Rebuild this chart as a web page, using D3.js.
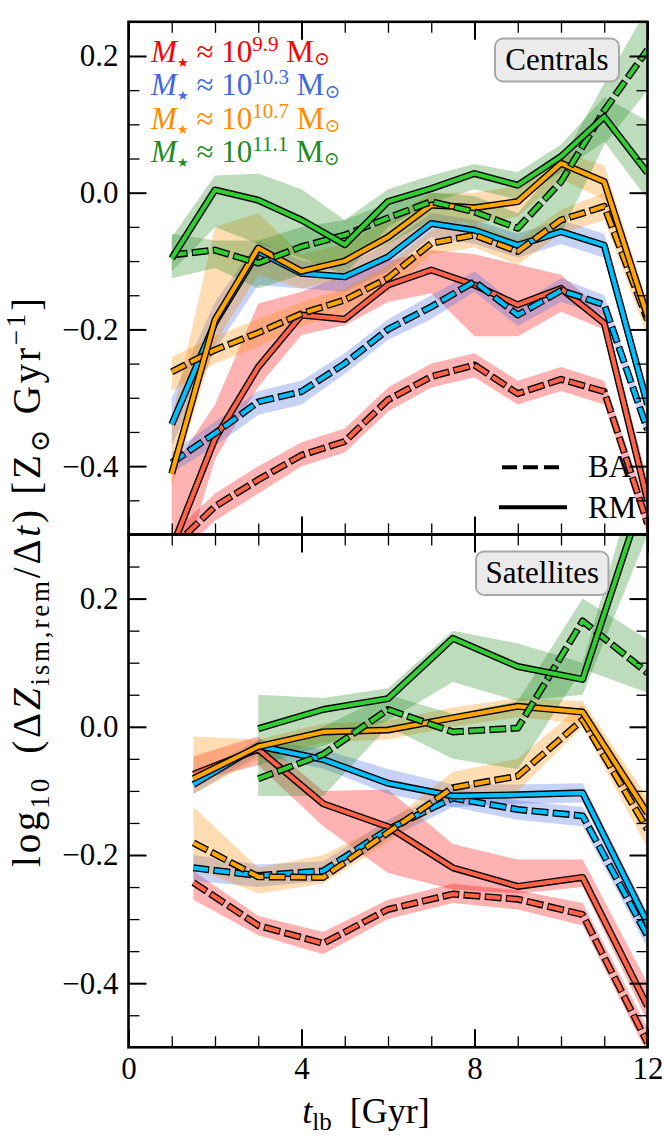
<!DOCTYPE html>
<html>
<head>
<meta charset="utf-8">
<script src="https://cdn.jsdelivr.net/npm/d3@7"></script>
<style>
  body { margin: 0; background: #fff; }
  svg { display: block; }
  text { font-family: "Liberation Serif", "DejaVu Serif", serif; }
</style>
</head>
<body>
<div id="chart"></div>
<script>
// lookback times of the bins
var tCen = [1, 2, 3, 4, 5, 6, 7, 8, 9, 10, 11, 12];
var tSat = [1.5, 3, 4.5, 6, 7.5, 9, 10.5, 12];

// ---- centrals ----
var cenRedBA    = [-0.52, -0.459, -0.42, -0.384, -0.364, -0.303, -0.269, -0.252, -0.294, -0.273, -0.291, -0.484];
var cenRedBAlo  = [-0.54, -0.48, -0.44, -0.40, -0.38, -0.32, -0.285, -0.27, -0.31, -0.29, -0.31, -0.50];
var cenRedBAhi  = [-0.50, -0.44, -0.40, -0.365, -0.345, -0.285, -0.25, -0.235, -0.275, -0.255, -0.275, -0.46];
var cenRedRM    = [-0.52, -0.36, -0.255, -0.179, -0.185, -0.135, -0.113, -0.135, -0.164, -0.14, -0.191, -0.45];
var cenRedRMlo  = [-0.60, -0.39, -0.284, -0.208, -0.194, -0.16, -0.147, -0.21, -0.21, -0.174, -0.20, -0.47];
var cenRedRMhi  = [-0.405, -0.31, -0.162, -0.145, -0.12, -0.10, -0.084, -0.09, -0.105, -0.12, -0.175, -0.42];

var cenBlueBA   = [-0.395, -0.352, -0.306, -0.291, -0.25, -0.20, -0.167, -0.13, -0.179, -0.143, -0.164, -0.347];
var cenBlueBAlo = [-0.41, -0.37, -0.325, -0.31, -0.265, -0.215, -0.185, -0.145, -0.195, -0.16, -0.18, -0.36];
var cenBlueBAhi = [-0.38, -0.335, -0.29, -0.275, -0.235, -0.185, -0.15, -0.115, -0.165, -0.125, -0.15, -0.33];
var cenBlueRM   = [-0.339, -0.19, -0.086, -0.118, -0.123, -0.094, -0.045, -0.055, -0.077, -0.057, -0.077, -0.31];
var cenBlueRMlo = [-0.37, -0.23, -0.135, -0.14, -0.145, -0.115, -0.065, -0.075, -0.095, -0.075, -0.095, -0.33];
var cenBlueRMhi = [-0.30, -0.16, -0.07, -0.10, -0.105, -0.075, -0.03, -0.04, -0.06, -0.04, -0.06, -0.29];

var cenOrBA     = [-0.262, -0.23, -0.205, -0.177, -0.157, -0.125, -0.074, -0.062, -0.086, -0.04, -0.02, -0.186];
var cenOrBAlo   = [-0.29, -0.25, -0.225, -0.195, -0.175, -0.145, -0.09, -0.08, -0.105, -0.06, -0.04, -0.21];
var cenOrBAhi   = [-0.24, -0.21, -0.185, -0.16, -0.14, -0.105, -0.055, -0.045, -0.07, -0.025, 0.0, -0.16];
var cenOrRM     = [-0.411, -0.186, -0.081, -0.115, -0.10, -0.065, -0.018, -0.022, -0.013, 0.043, 0.016, -0.181];
var cenOrRMlo   = [-0.43, -0.22, -0.12, -0.14, -0.125, -0.09, -0.04, -0.045, -0.035, 0.02, -0.01, -0.20];
var cenOrRMhi   = [-0.33, -0.05, -0.03, -0.09, -0.075, -0.04, 0.0, 0.0, 0.01, 0.06, 0.04, -0.16];

var cenGrBA     = [-0.091, -0.084, -0.103, -0.079, -0.062, -0.037, -0.013, -0.028, -0.052, 0.016, 0.12, 0.209];
var cenGrBAlo   = [-0.125, -0.11, -0.14, -0.12, -0.10, -0.075, -0.04, -0.05, -0.075, -0.06, 0.07, 0.15];
var cenGrBAhi   = [-0.06, -0.07, -0.07, -0.05, -0.04, -0.015, 0.0, -0.005, -0.03, 0.045, 0.16, 0.27];
var cenGrRM     = [-0.096, 0.004, -0.011, -0.04, -0.076, -0.013, 0.006, 0.028, 0.011, 0.053, 0.111, 0.029];
var cenGrRMlo   = [-0.115, -0.05, -0.075, -0.095, -0.12, -0.05, -0.015, 0.005, -0.01, 0.03, 0.075, -0.01];
var cenGrRMhi   = [-0.065, 0.025, 0.028, 0.005, -0.04, 0.005, 0.025, 0.042, 0.03, 0.07, 0.14, 0.105];

// ---- satellites ----
var satRedBA    = [-0.243, -0.31, -0.338, -0.285, -0.261, -0.269, -0.293, -0.493];
var satRedBAlo  = [-0.27, -0.325, -0.355, -0.30, -0.275, -0.285, -0.31, -0.51];
var satRedBAhi  = [-0.225, -0.295, -0.32, -0.27, -0.245, -0.255, -0.275, -0.47];
var satRedRM    = [-0.074, -0.035, -0.12, -0.156, -0.22, -0.249, -0.235, -0.436];
var satRedRMlo  = [-0.085, -0.06, -0.155, -0.228, -0.254, -0.26, -0.25, -0.46];
var satRedRMhi  = [-0.046, -0.015, -0.10, -0.098, -0.183, -0.207, -0.207, -0.40];

var satBlueBA   = [-0.22, -0.232, -0.225, -0.16, -0.111, -0.129, -0.139, -0.326];
var satBlueBAlo = [-0.24, -0.25, -0.24, -0.175, -0.125, -0.145, -0.155, -0.345];
var satBlueBAhi = [-0.20, -0.215, -0.21, -0.145, -0.095, -0.115, -0.125, -0.31];
var satBlueRM   = [-0.09, -0.03, -0.051, -0.088, -0.108, -0.106, -0.103, -0.306];
var satBlueRMlo = [-0.105, -0.045, -0.065, -0.105, -0.125, -0.12, -0.118, -0.325];
var satBlueRMhi = [-0.075, -0.02, -0.035, -0.066, -0.09, -0.09, -0.088, -0.29];

var satOrBA     = [-0.181, -0.234, -0.235, -0.165, -0.095, -0.077, 0.011, -0.16];
var satOrBAlo   = [-0.22, -0.26, -0.245, -0.18, -0.11, -0.10, 0.0, -0.19];
var satOrBAhi   = [-0.125, -0.22, -0.20, -0.15, -0.07, -0.05, 0.035, -0.12];
var satOrRM     = [-0.081, -0.031, -0.008, -0.005, 0.014, 0.032, 0.023, -0.135];
var satOrRMlo   = [-0.105, -0.05, -0.025, -0.02, 0.0, 0.015, 0.005, -0.16];
var satOrRMhi   = [-0.015, -0.02, 0.005, 0.01, 0.03, 0.045, 0.04, -0.11];

var satGrBA     = [null, -0.081, -0.043, 0.027, -0.008, -0.002, 0.165, 0.084];
var satGrBAlo   = [null, -0.108, -0.108, 0.0, -0.05, -0.066, 0.09, 0.053];
var satGrBAhi   = [null, -0.04, 0.0, 0.05, 0.02, 0.04, 0.20, 0.136];
var satGrRM     = [null, -0.003, 0.027, 0.044, 0.138, 0.094, 0.074, 0.38];
var satGrRMlo   = [null, -0.06, -0.03, 0.01, 0.07, 0.04, 0.05, 0.30];
var satGrRMhi   = [null, 0.05, 0.045, 0.06, 0.15, 0.13, 0.10, 0.45];

// ticks and labels
var xMajor = [0, 4, 8, 12];
var yMajor = [-0.4, -0.2, 0.0, 0.2];
var massLabels = ["9.9", "10.3", "10.7", "11.1"];
var panelNames = ["Centrals", "Satellites"];

var lineColor = {red: "tomato", blue: "deepskyblue", orange: "orange", green: "limegreen"};
var bandColor = {red: "red", blue: "royalblue", orange: "darkorange", green: "forestgreen"};
var textColor = ["red", "royalblue", "darkorange", "forestgreen"];

var width = 664, height = 1139;
var L = 128.5, R = 647.5, T1 = 21.8, B1 = 534.5, B2 = 1047.3;

var svg = d3.select("#chart").append("svg")
    .attr("width", width)
    .attr("height", height);

var x = d3.scaleLinear().domain([0, 12]).range([L, R]);
var yTop = d3.scaleLinear().domain([-0.5, 0.25]).range([B1, T1]);
var yBot = d3.scaleLinear().domain([-0.5, 0.3]).range([B2, B1]);

function mk(c, kind, v, lo, hi) { return {c: c, kind: kind, v: v, lo: lo, hi: hi}; }

var cenSeries = [
  mk("red", "BA", cenRedBA, cenRedBAlo, cenRedBAhi),
  mk("red", "RM", cenRedRM, cenRedRMlo, cenRedRMhi),
  mk("blue", "BA", cenBlueBA, cenBlueBAlo, cenBlueBAhi),
  mk("blue", "RM", cenBlueRM, cenBlueRMlo, cenBlueRMhi),
  mk("orange", "BA", cenOrBA, cenOrBAlo, cenOrBAhi),
  mk("orange", "RM", cenOrRM, cenOrRMlo, cenOrRMhi),
  mk("green", "BA", cenGrBA, cenGrBAlo, cenGrBAhi),
  mk("green", "RM", cenGrRM, cenGrRMlo, cenGrRMhi)
];
var satSeries = [
  mk("red", "BA", satRedBA, satRedBAlo, satRedBAhi),
  mk("red", "RM", satRedRM, satRedRMlo, satRedRMhi),
  mk("blue", "BA", satBlueBA, satBlueBAlo, satBlueBAhi),
  mk("blue", "RM", satBlueRM, satBlueRMlo, satBlueRMhi),
  mk("orange", "BA", satOrBA, satOrBAlo, satOrBAhi),
  mk("orange", "RM", satOrRM, satOrRMlo, satOrRMhi),
  mk("green", "BA", satGrBA, satGrBAlo, satGrBAhi),
  mk("green", "RM", satGrRM, satGrRMlo, satGrRMhi)
];

var defs = svg.append("defs");

function drawPanel(y, top, bottom, tVals, series, id) {
  defs.append("clipPath").attr("id", id)
    .append("rect").attr("x", L).attr("y", top).attr("width", R - L).attr("height", bottom - top);

  var body = svg.append("g").attr("clip-path", "url(#" + id + ")");

  var rows = series.map(function(s) {
    return tVals.map(function(t, i) { return {t: t, v: s.v[i], lo: s.lo[i], hi: s.hi[i]}; });
  });

  var area = d3.area()
    .defined(function(d) { return d.lo != null; })
    .x(function(d) { return x(d.t); })
    .y0(function(d) { return y(d.lo); })
    .y1(function(d) { return y(d.hi); });

  var line = d3.line()
    .defined(function(d) { return d.v != null; })
    .x(function(d) { return x(d.t); })
    .y(function(d) { return y(d.v); });

  // shaded ranges first
  series.forEach(function(s, i) {
    body.append("path").attr("d", area(rows[i]))
      .attr("fill", bandColor[s.c]).attr("fill-opacity", 0.3);
  });

  // outlined lines on top
  series.forEach(function(s, i) {
    var d = line(rows[i]);
    var blk = body.append("path").attr("d", d).attr("fill", "none")
      .attr("stroke", "#000").attr("stroke-width", 7).attr("stroke-linejoin", "round");
    var col = body.append("path").attr("d", d).attr("fill", "none")
      .attr("stroke", lineColor[s.c]).attr("stroke-width", 4.2).attr("stroke-linejoin", "round");
    if (s.kind == "BA") {
      blk.attr("stroke-dasharray", "16.8,4.4").attr("stroke-dashoffset", 1);
      col.attr("stroke-dasharray", "14.8,6.4");
    }
  });

  // frame
  svg.append("rect").attr("x", L).attr("y", top).attr("width", R - L).attr("height", bottom - top)
    .attr("fill", "none").attr("stroke", "#000").attr("stroke-width", 2.6);
}

function addAxis(gen, tr, vals, size, sw, fmt) {
  var a = svg.append("g").attr("transform", tr)
    .call(gen.tickValues(vals).tickSizeInner(-size).tickSizeOuter(0).tickPadding(10)
      .tickFormat(fmt || function() { return ""; }));
  a.select(".domain").remove();
  a.selectAll("line").attr("stroke", "#000").attr("stroke-width", sw);
  a.selectAll("text").attr("fill", "#000").attr("font-size", 31)
    .attr("font-family", '"Liberation Serif", "DejaVu Serif", serif');
  return a;
}

function panelTicks(y, top, bottom, yMinor, showX) {
  var xMinor = d3.range(0, 13, 1).filter(function(v) { return xMajor.indexOf(v) < 0; });
  var fy = d3.format(".1f");
  addAxis(d3.axisLeft(y), "translate(" + L + ",0)", yMinor, 11, 1.3);
  addAxis(d3.axisLeft(y), "translate(" + L + ",0)", yMajor, 18, 2, fy);
  addAxis(d3.axisRight(y), "translate(" + R + ",0)", yMinor, 11, 1.3);
  addAxis(d3.axisRight(y), "translate(" + R + ",0)", yMajor, 18, 2);
  addAxis(d3.axisTop(x), "translate(0," + top + ")", xMinor, 11, 1.3);
  addAxis(d3.axisTop(x), "translate(0," + top + ")", xMajor, 18, 2);
  addAxis(d3.axisBottom(x), "translate(0," + bottom + ")", xMinor, 11, 1.3);
  addAxis(d3.axisBottom(x), "translate(0," + bottom + ")", xMajor, 18, 2, showX ? d3.format("d") : null);
}

drawPanel(yTop, T1, B1, tCen, cenSeries, "clipTop");
drawPanel(yBot, B1, B2, tSat, satSeries, "clipBot");

panelTicks(yTop, T1, B1, d3.range(-0.45, 0.26, 0.05).map(function(v) { return +v.toFixed(2); })
  .filter(function(v) { return yMajor.indexOf(v) < 0; }), false);
panelTicks(yBot, B1, B2, d3.range(-0.45, 0.31, 0.05).map(function(v) { return +v.toFixed(2); })
  .filter(function(v) { return yMajor.indexOf(v) < 0; }), true);

// panel name boxes
function nameBox(bx, by, bw, bh, label) {
  svg.append("rect").attr("x", bx).attr("y", by).attr("width", bw).attr("height", bh)
    .attr("rx", 8).attr("fill", "#ebebeb").attr("stroke", "#a8a8a8").attr("stroke-width", 2);
  svg.append("text").attr("x", bx + bw / 2).attr("y", by + bh / 2 + 10)
    .attr("text-anchor", "middle").attr("font-size", 31).attr("fill", "#000").text(label);
}
nameBox(495, 38.5, 124, 43, panelNames[0]);
nameBox(476, 551.5, 132.5, 43.5, panelNames[1]);

// mass legend
massLabels.forEach(function(m, i) {
  var t = svg.append("text").attr("x", 151).attr("y", 62 + i * 33.3)
    .attr("font-size", 31).attr("fill", textColor[i]);
  t.append("tspan").attr("font-style", "italic").text("M");
  t.append("tspan").attr("font-size", 13).attr("dy", 5).text("\u2605");
  t.append("tspan").attr("dy", -5).text(" \u2248 10");
  t.append("tspan").attr("font-size", 21).attr("dy", -11).text(m);
  t.append("tspan").attr("dy", 11).text(" M");
  t.append("tspan").attr("font-size", 19).attr("dy", 3).text("\u2299");
});

// BA / RM key
svg.append("line").attr("x1", 502).attr("x2", 562).attr("y1", 467.3).attr("y2", 467.3)
  .attr("stroke", "#000").attr("stroke-width", 4).attr("stroke-dasharray", "15,6");
svg.append("line").attr("x1", 499).attr("x2", 567).attr("y1", 507.3).attr("y2", 507.3)
  .attr("stroke", "#000").attr("stroke-width", 4);
svg.append("text").attr("x", 588).attr("y", 477).attr("font-size", 31).text("BA");
svg.append("text").attr("x", 588).attr("y", 518).attr("font-size", 31).text("RM");

// x label
var xl = svg.append("text").attr("x", 366).attr("y", 1123).attr("text-anchor", "middle").attr("font-size", 36);
xl.append("tspan").attr("font-style", "italic").text("t");
xl.append("tspan").attr("font-size", 25).attr("dy", 7).text("lb");
xl.append("tspan").attr("dy", -7).text("\u2002[Gyr]");

// y label
var yl = svg.append("text").attr("transform", "translate(40,581) rotate(-90)")
  .attr("text-anchor", "middle").attr("font-size", 39).attr("letter-spacing", 2.8);
yl.append("tspan").text("log");
yl.append("tspan").attr("font-size", 27).attr("dy", 9).text("10");
yl.append("tspan").attr("dy", -9).text("\u2002(\u0394");
yl.append("tspan").attr("font-style", "italic").text("Z");
yl.append("tspan").attr("font-size", 27).attr("dy", 9).text("ism,rem");
yl.append("tspan").attr("dy", -9).text("/\u0394");
yl.append("tspan").attr("font-style", "italic").text("t");
yl.append("tspan").text(") [Z");
yl.append("tspan").attr("font-size", 27).attr("dy", 9).text("\u2299");
yl.append("tspan").attr("dy", -9).text(" Gyr");
yl.append("tspan").attr("font-size", 27).attr("dy", -15).text("\u22121");
yl.append("tspan").attr("dy", 15).text("]");
</script>
</body>
</html>
